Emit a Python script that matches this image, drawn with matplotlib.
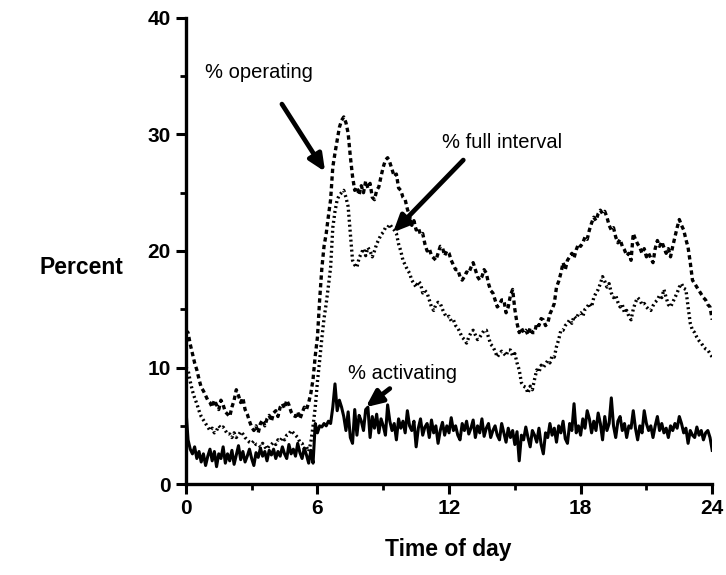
import numpy as np
import matplotlib
matplotlib.use("Agg")
import matplotlib.pyplot as plt
from matplotlib.ticker import MultipleLocator

plt.rcParams['font.family'] = ['Liberation Sans', 'DejaVu Sans']

# time of day in hours, one reading every 0.1 h
hours = np.arange(241) / 10.0

# % operating (dashed)
operating = [
    13.2, 13.0, 12.0, 11.2, 10.4, 9.8, 9.0, 8.3, 8.0, 7.6,
    7.2, 7.0, 6.6, 7.2, 6.8, 6.4, 7.2, 6.8, 6.2, 6.0,
    5.8, 6.6, 7.2, 8.1, 7.6, 7.0, 7.4, 6.4, 6.0, 5.4,
    4.9, 4.6, 5.0, 4.4, 5.2, 5.5, 5.0, 5.6, 5.9, 5.4,
    6.1, 6.3, 5.8, 6.6, 6.9, 6.5, 7.2, 6.8, 6.2, 5.9,
    5.8, 6.2, 5.6, 6.1, 6.6, 6.4, 7.0, 7.8, 9.0, 11.0,
    12.6, 15.8, 18.5, 20.4, 21.5, 23.0, 24.4, 27.2, 28.4, 29.5,
    30.6, 31.2, 31.5, 31.0, 30.1, 28.1, 26.4, 25.2, 25.5, 24.8,
    25.6, 25.0, 26.0, 25.4, 25.8, 24.6, 24.4, 25.2, 25.5, 26.4,
    27.2, 27.8, 28.0, 27.6, 27.0, 26.4, 26.6, 25.4, 25.2, 24.6,
    24.4, 23.6, 23.0, 22.2, 22.6, 21.8, 22.0, 21.4, 21.5, 20.6,
    20.0, 20.2, 19.6, 19.4, 19.2, 19.8, 20.4, 20.3, 19.6, 20.0,
    19.8, 19.2, 18.8, 18.4, 18.4, 17.8, 17.5, 17.8, 18.2, 18.1,
    18.6, 19.0, 18.4, 17.8, 17.5, 17.8, 18.4, 18.1, 17.2, 16.6,
    16.4, 15.8, 15.2, 15.4, 15.8, 15.8, 14.7, 15.2, 16.2, 16.7,
    15.0, 13.8, 13.0, 13.4, 13.0, 13.2, 12.8, 13.4, 13.0, 13.0,
    13.8, 13.6, 14.2, 14.1, 13.6, 13.8, 14.6, 15.0, 15.5, 16.9,
    17.4, 18.1, 19.0, 18.4, 19.2, 19.5, 19.8, 19.4, 20.1, 20.6,
    20.4, 20.7, 21.2, 21.0, 21.8, 22.4, 22.9, 22.6, 23.2, 23.5,
    23.2, 23.4, 22.9, 22.2, 21.8, 22.0, 21.2, 20.7, 21.0, 20.4,
    20.1, 19.6, 19.8, 19.2, 21.5, 21.0, 20.6, 20.3, 19.8, 20.2,
    19.5, 19.8, 19.4, 19.0, 20.2, 20.9, 20.4, 20.8, 20.3, 19.8,
    20.2, 19.5, 20.4, 21.2, 22.0, 22.7, 22.2, 21.8, 21.0, 20.3,
    19.0, 17.5, 17.2, 16.9, 16.6, 16.3, 16.0, 15.8, 15.4, 15.2,
    14.1,
]

# % full interval (dotted)
full_interval = [
    10.0, 9.8, 8.8, 8.0, 7.4, 6.9, 6.3, 5.8, 5.5, 5.2,
    4.9, 4.6, 4.8, 4.4, 4.6, 5.0, 4.8, 4.9, 4.6, 4.3,
    4.3, 4.0, 4.4, 4.0, 4.2, 4.5, 4.3, 4.0, 3.8, 3.6,
    3.5, 3.7, 3.4, 3.4, 3.2, 3.5, 3.2, 3.0, 3.3, 3.4,
    3.6, 3.4, 3.8, 3.7, 4.0, 3.8, 4.2, 4.3, 4.6, 4.4,
    4.2, 4.0, 3.6, 3.5, 3.0, 3.2, 2.8, 3.6, 5.0, 6.6,
    8.8, 10.6, 12.5, 14.2, 15.5, 17.0, 18.6, 22.0, 23.4, 24.4,
    24.8, 25.0, 25.2, 24.6, 23.8, 21.5, 19.2, 18.8, 18.6, 19.4,
    19.8, 20.2, 19.6, 20.3, 20.0, 19.5, 20.0, 20.6, 21.0, 21.4,
    21.6, 22.0, 22.0, 22.3, 22.0, 21.8, 21.5, 20.6, 20.0, 19.2,
    18.8, 18.4, 18.1, 17.5, 17.2, 16.9, 17.4, 17.2, 16.4, 16.6,
    16.4, 15.8, 15.2, 14.9, 15.4, 15.6, 15.5, 15.0, 14.6, 14.3,
    14.4, 14.0, 14.1, 13.6, 13.4, 13.0, 12.6, 12.4, 12.1, 12.6,
    13.0, 13.2, 12.8, 12.4, 12.6, 12.9, 13.2, 13.2, 12.6, 12.0,
    11.8, 11.4, 10.9, 11.2, 11.4, 11.2, 11.0, 11.5, 11.5, 11.0,
    11.2, 10.4, 9.8, 8.7, 8.4, 8.3, 7.8, 8.4, 8.1, 9.0,
    9.8, 9.6, 10.2, 10.0, 10.3, 10.6, 10.4, 11.0, 10.9, 11.8,
    12.4, 13.2, 13.2, 13.6, 13.8, 14.1, 13.8, 14.4, 14.2, 14.6,
    14.7, 14.4, 15.0, 15.2, 15.5, 15.2, 16.0, 16.4, 16.7, 17.2,
    17.8, 17.4, 16.9, 17.2, 16.4, 16.0, 16.2, 15.6, 15.2, 15.4,
    14.7, 14.9, 14.4, 14.1, 15.0, 15.6, 16.0, 15.8, 15.4, 15.5,
    15.2, 15.0, 14.9, 15.3, 15.6, 15.8, 16.2, 16.0, 16.7, 16.0,
    15.4, 15.2, 15.6, 16.0, 16.4, 16.9, 17.2, 16.8, 16.7, 15.2,
    13.8, 13.2, 13.0, 12.6, 12.3, 12.1, 11.8, 11.6, 11.5, 11.2,
    10.9,
]

# % activating (solid)
activating = [
    6.5, 3.8, 3.0, 2.6, 3.2, 2.2, 2.8, 1.9, 2.6, 1.6,
    2.4, 3.0, 2.0, 2.8, 1.5, 2.6, 2.2, 3.2, 1.8, 2.6,
    2.0, 2.9, 1.7, 2.5, 3.3, 2.1, 2.8, 1.9, 2.4, 3.0,
    2.2, 1.6, 2.7, 2.3, 3.1, 2.4, 2.8, 2.0, 2.9, 2.5,
    3.0, 2.2, 2.8, 2.4, 3.2, 2.6, 2.2, 3.4, 2.6, 3.0,
    2.4, 3.5, 2.7, 2.2, 3.1, 2.5, 1.8, 2.9, 1.8, 5.2,
    4.4, 5.0, 4.9, 5.2, 5.0, 5.4, 5.2, 6.6, 8.6, 6.3,
    7.2, 6.6, 5.8, 4.6, 6.2, 4.0, 3.5, 6.4, 4.2, 5.9,
    5.4, 4.6, 6.4, 6.6, 4.0, 5.8, 4.8, 6.0, 4.4, 5.6,
    5.0, 4.2, 6.8, 5.4, 4.6, 5.2, 3.8, 5.6, 4.8, 5.4,
    4.4, 6.3, 5.0, 4.6, 5.4, 3.2, 4.8, 5.6, 4.2, 4.9,
    5.2, 4.0, 5.5, 4.4, 5.0, 3.5, 4.6, 5.3, 4.2, 5.0,
    4.4, 5.7, 4.6, 5.0, 4.2, 3.8, 5.2, 4.6, 5.4, 4.3,
    4.8, 5.5, 4.0, 5.0, 4.4, 5.6, 4.1, 4.8, 5.2, 4.0,
    4.6, 5.0, 4.2, 3.8, 5.2, 4.4, 3.6, 4.8, 4.0, 4.6,
    3.4, 4.5, 2.0, 4.2, 3.8, 4.9, 4.0, 3.2, 4.6, 4.2,
    3.6, 4.8, 3.4, 2.6, 4.4, 4.0, 5.2, 4.2, 4.8, 3.6,
    5.0, 4.4, 5.4, 3.9, 3.5, 5.2, 4.6, 6.9, 4.4, 5.0,
    4.2, 5.6, 4.8, 6.3, 5.6, 4.4, 5.4, 4.6, 6.1, 5.2,
    3.8, 5.8, 4.6, 5.2, 7.4, 5.0, 4.0, 5.4, 5.8, 4.6,
    5.2, 4.0, 5.0, 4.8, 6.3, 4.8, 3.8, 5.0, 4.4, 6.3,
    5.2, 4.6, 5.0, 4.0, 5.0, 5.8, 4.6, 5.2, 4.4, 4.8,
    4.0, 5.0, 4.6, 5.2, 4.8, 5.8, 5.2, 4.4, 4.8, 3.5,
    4.6, 4.2, 4.0, 4.9, 4.2, 4.6, 3.8, 4.4, 4.6, 4.0,
    2.9,
]

x_ticks = [0, 6, 12, 18, 24]
y_ticks = [0, 10, 20, 30, 40]

fig = plt.figure(figsize=(7.26, 5.75), dpi=100)
ax = fig.add_axes([0.256, 0.158, 0.725, 0.811])

ax.plot(hours, operating, color='black', lw=2.4, linestyle=(0, (1.3, 1.0)),
        dash_capstyle='butt')
ax.plot(hours, full_interval, color='black', lw=2.4, linestyle=(0, (0.6, 0.9)),
        dash_capstyle='butt')
ax.plot(hours, activating, color='black', lw=2.2)

ax.set_xlim(0, 24)
ax.set_ylim(0, 40)
ax.spines['top'].set_visible(False)
ax.spines['right'].set_visible(False)
ax.spines['left'].set_linewidth(2.4)
ax.spines['bottom'].set_linewidth(2.4)

ax.set_xticks(x_ticks)
ax.set_yticks(y_ticks)
ax.xaxis.set_minor_locator(MultipleLocator(3))
ax.yaxis.set_minor_locator(MultipleLocator(5))
ax.tick_params(which='major', direction='out', length=7, width=2.2,
               labelsize=15, pad=4)
ax.tick_params(which='minor', direction='out', length=4, width=2.0)
for lab in ax.get_xticklabels() + ax.get_yticklabels():
    lab.set_fontweight('bold')

fig.text(0.617, 0.045, 'Time of day', ha='center', va='center',
         fontsize=16.5, fontweight='bold')
fig.text(0.112, 0.534, 'Percent', ha='center', va='center',
         fontsize=16.5, fontweight='bold')

arrow = dict(arrowstyle='-|>,head_length=1.0,head_width=0.45', color='black',
             lw=3.4, shrinkA=0, shrinkB=0)
ax.annotate('', xy=(6.35, 26.8), xytext=(4.38, 32.6), arrowprops=arrow)
ax.annotate('', xy=(9.45, 21.6), xytext=(12.65, 27.8), arrowprops=arrow)
ax.annotate('', xy=(8.2, 6.6), xytext=(9.3, 8.2), arrowprops=arrow)

ax.text(3.33, 35.3, '% operating', ha='center', va='center', fontsize=14.5)
ax.text(14.4, 29.3, '% full interval', ha='center', va='center', fontsize=14.5)
ax.text(9.9, 9.5, '% activating', ha='center', va='center', fontsize=14.5)

fig.savefig('out.png', dpi=100)
